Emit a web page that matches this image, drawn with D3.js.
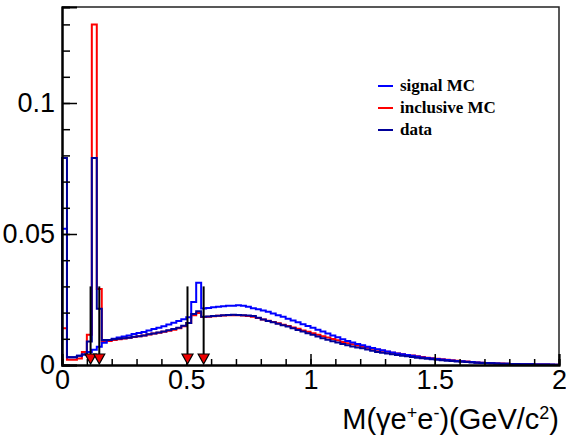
<!DOCTYPE html>
<html>
<head lang="en">
    <meta charset="UTF-8">
    <title></title>
    <style>
        body { margin: 0; background: #fff; }
        svg { display: block; }
    </style>
</head>
<body>
<svg width="566" height="440"></svg>
<script src="https://cdn.jsdelivr.net/npm/d3@7/dist/d3.min.js"></script>
<script>
    // bin low edges, 100 bins of 0.02 GeV/c^2 on [0,2]
    var binLow = d3.range(100).map(function (i) { return i * 0.02; });

    var signalMC = [
        0.0520, 0.0030, 0.0030, 0.0035, 0.0040, 0.0050, 0.0058, 0.0070, 0.0085, 0.0095,
        0.0100, 0.0105, 0.0109, 0.0113, 0.0118, 0.0122, 0.0126, 0.0132, 0.0137, 0.0142,
        0.0148, 0.0155, 0.0161, 0.0168, 0.0175, 0.0182, 0.0240, 0.0314, 0.0216, 0.0218,
        0.0220, 0.0222, 0.0224, 0.0226, 0.0226, 0.0228, 0.0226, 0.0222, 0.0217, 0.0213,
        0.0208, 0.0203, 0.0197, 0.0190, 0.0184, 0.0177, 0.0170, 0.0163, 0.0156, 0.0149,
        0.0142, 0.0135, 0.0128, 0.0120, 0.0113, 0.0106, 0.0098, 0.0092, 0.0086, 0.0080,
        0.0075, 0.0070, 0.0065, 0.0060, 0.0056, 0.0052, 0.0048, 0.0044, 0.0041, 0.0038,
        0.0035, 0.0032, 0.0029, 0.0027, 0.0025, 0.0023, 0.0021, 0.0019, 0.0017, 0.0015,
        0.0014, 0.0012, 0.0011, 0.0010, 0.0009, 0.0008, 0.0007, 0.0006, 0.0005, 0.0005,
        0.0004, 0.0004, 0.0003, 0.0003, 0.0003, 0.0002, 0.0002, 0.0002, 0.0001, 0.0001
    ];

    var inclusiveMC = [
        0.0140, 0.0020, 0.0020, 0.0025, 0.0050, 0.0115, 0.1300, 0.0290, 0.0090, 0.0092,
        0.0095, 0.0098, 0.0101, 0.0104, 0.0107, 0.0110, 0.0113, 0.0116, 0.0120, 0.0123,
        0.0127, 0.0131, 0.0135, 0.0140, 0.0148, 0.0160, 0.0190, 0.0198, 0.0183, 0.0184,
        0.0186, 0.0188, 0.0189, 0.0190, 0.0190, 0.0190, 0.0189, 0.0187, 0.0184, 0.0179,
        0.0174, 0.0169, 0.0164, 0.0159, 0.0154, 0.0149, 0.0143, 0.0138, 0.0132, 0.0127,
        0.0121, 0.0115, 0.0110, 0.0105, 0.0099, 0.0094, 0.0088, 0.0083, 0.0079, 0.0074,
        0.0070, 0.0066, 0.0062, 0.0058, 0.0054, 0.0051, 0.0047, 0.0044, 0.0041, 0.0038,
        0.0036, 0.0033, 0.0031, 0.0028, 0.0026, 0.0024, 0.0022, 0.0020, 0.0018, 0.0016,
        0.0014, 0.0013, 0.0011, 0.0010, 0.0009, 0.0008, 0.0007, 0.0006, 0.0006, 0.0005,
        0.0004, 0.0004, 0.0003, 0.0003, 0.0003, 0.0002, 0.0002, 0.0002, 0.0001, 0.0001
    ];

    var dataHist = [
        0.0790, 0.0030, 0.0030, 0.0035, 0.0040, 0.0090, 0.0790, 0.0215, 0.0095, 0.0095,
        0.0098, 0.0100, 0.0102, 0.0104, 0.0108, 0.0110, 0.0113, 0.0117, 0.0120, 0.0124,
        0.0128, 0.0133, 0.0137, 0.0142, 0.0150, 0.0160, 0.0195, 0.0205, 0.0184, 0.0185,
        0.0187, 0.0188, 0.0190, 0.0191, 0.0192, 0.0191, 0.0190, 0.0189, 0.0187, 0.0180,
        0.0174, 0.0168, 0.0163, 0.0157, 0.0152, 0.0147, 0.0140, 0.0134, 0.0128, 0.0121,
        0.0115, 0.0109, 0.0102, 0.0096, 0.0091, 0.0086, 0.0080, 0.0075, 0.0071, 0.0067,
        0.0064, 0.0059, 0.0054, 0.0050, 0.0047, 0.0044, 0.0041, 0.0038, 0.0035, 0.0033,
        0.0031, 0.0028, 0.0026, 0.0024, 0.0022, 0.0020, 0.0018, 0.0016, 0.0015, 0.0013,
        0.0012, 0.0011, 0.0010, 0.0009, 0.0008, 0.0007, 0.0007, 0.0006, 0.0005, 0.0005,
        0.0004, 0.0004, 0.0003, 0.0003, 0.0003, 0.0002, 0.0002, 0.0002, 0.0002, 0.0001
    ];

    var seriesNames = ["signal MC", "inclusive MC", "data"];
    var seriesColors = ["#0000ff", "#ff0000", "#000099"];

    // cut positions marked by arrows
    var cutX = [0.115, 0.15, 0.505, 0.57];
    var cutTop = 0.03;

    var xMajor = [0, 0.5, 1, 1.5, 2];
    var xMinor = d3.range(0, 2.001, 0.1);
    var yMajor = [0, 0.05, 0.1];
    var yMinor = d3.range(0, 0.1366, 0.01);

    var svg = d3.select("svg"),
            MARGINS = {top: 7, right: 7, bottom: 75, left: 62},
            WIDTH = +svg.attr("width"),
            HEIGHT = +svg.attr("height");

    var xScale = d3.scaleLinear()
            .domain([0, 2])
            .range([MARGINS.left, WIDTH - MARGINS.right]);
    var yScale = d3.scaleLinear()
            .domain([0, 0.13664])
            .range([HEIGHT - MARGINS.bottom, MARGINS.top]);

    var x0 = xScale(0), x1 = xScale(2), y0 = yScale(0), y1 = yScale(0.13664);

    // frame top / right
    svg.append("path")
            .attr("d", "M" + x0 + "," + y1 + "H" + x1 + "V" + y0)
            .attr("fill", "none")
            .attr("stroke", "#222")
            .attr("stroke-width", 1.5);

    // histograms
    var lineGen = d3.line()
            .x(function (d) { return xScale(d[0]); })
            .y(function (d) { return yScale(d[1]); })
            .curve(d3.curveStepAfter);

    function histPoints(vals) {
        var pts = [[0, 0]];
        vals.forEach(function (v, i) { pts.push([binLow[i], v]); });
        pts.push([2, vals[vals.length - 1]]);
        pts.push([2, 0]);
        return pts;
    }

    var histos = [
        {vals: inclusiveMC, color: seriesColors[1]},
        {vals: signalMC, color: seriesColors[0]},
        {vals: dataHist, color: seriesColors[2]}
    ];
    svg.append("g").selectAll("path")
            .data(histos)
            .enter().append("path")
            .attr("d", function (d) { return lineGen(histPoints(d.vals)); })
            .attr("fill", "none")
            .attr("stroke", function (d) { return d.color; })
            .attr("stroke-width", 2);

    // axes
    var xAxisMinor = d3.axisBottom(xScale).tickValues(xMinor).tickSize(-6).tickFormat("");
    var xAxis = d3.axisBottom(xScale).tickValues(xMajor).tickSize(-11).tickPadding(5)
            .tickFormat(function (d) { return d3.format("")(d); });
    var yAxisMinor = d3.axisLeft(yScale).tickValues(yMinor).tickSize(-8).tickFormat("");
    var yAxis = d3.axisLeft(yScale).tickValues(yMajor).tickSize(-15).tickPadding(7)
            .tickFormat(function (d) { return d3.format("")(d); });

    function styleAxis(g) {
        g.select(".domain").attr("stroke", "#000").attr("stroke-width", 2);
        g.selectAll(".tick line").attr("stroke", "#000").attr("stroke-width", 1.5);
        g.selectAll("text")
                .attr("fill", "#000")
                .style("font-family", "'Liberation Sans', Arial, sans-serif")
                .style("font-size", "27px");
    }

    svg.append("g").attr("transform", "translate(0," + y0 + ")").call(xAxisMinor).call(styleAxis);
    svg.append("g").attr("transform", "translate(0," + y0 + ")").call(xAxis).call(styleAxis);
    svg.append("g").attr("transform", "translate(" + x0 + ",0)").call(yAxisMinor).call(styleAxis);
    svg.append("g").attr("transform", "translate(" + x0 + ",0)").call(yAxis).call(styleAxis);

    // cut arrows
    var arrows = svg.append("g").selectAll("g")
            .data(cutX)
            .enter().append("g");
    arrows.append("line")
            .attr("x1", function (d) { return xScale(d); })
            .attr("x2", function (d) { return xScale(d); })
            .attr("y1", yScale(cutTop))
            .attr("y2", y0 - 9)
            .attr("stroke", "#000")
            .attr("stroke-width", 2);
    arrows.append("path")
            .attr("d", function (d) {
                var cx = xScale(d);
                return "M" + (cx - 5.5) + "," + (y0 - 11) + "L" + (cx + 5.5) + "," + (y0 - 11) +
                        "L" + cx + "," + (y0 - 1) + "Z";
            })
            .attr("fill", "#ee0000")
            .attr("stroke", "#000")
            .attr("stroke-width", 1.2);

    // legend
    var legend = svg.append("g").attr("transform", "translate(378,86)");
    var rows = legend.selectAll("g")
            .data(seriesNames)
            .enter().append("g")
            .attr("transform", function (d, i) { return "translate(0," + (i * 22) + ")"; });
    rows.append("line")
            .attr("x1", 0).attr("x2", 15)
            .attr("stroke", function (d, i) { return seriesColors[i]; })
            .attr("stroke-width", 2);
    rows.append("text")
            .attr("x", 22)
            .attr("y", 5)
            .text(function (d) { return d; })
            .style("font-family", "'Liberation Serif', 'Times New Roman', serif")
            .style("font-weight", "bold")
            .style("font-size", "17px");

    // axis title
    var title = svg.append("text")
            .attr("x", x1)
            .attr("y", 429)
            .attr("text-anchor", "end")
            .style("font-family", "'Liberation Sans', Arial, sans-serif")
            .style("font-size", "29px");
    title.append("tspan").text("M(\u03b3e");
    title.append("tspan").attr("baseline-shift", "super").style("font-size", "18px").text("+");
    title.append("tspan").text("e");
    title.append("tspan").attr("baseline-shift", "super").style("font-size", "18px").text("-");
    title.append("tspan").text(")(GeV/c");
    title.append("tspan").attr("baseline-shift", "super").style("font-size", "18px").text("2");
    title.append("tspan").text(")");
</script>
</body>
</html>
